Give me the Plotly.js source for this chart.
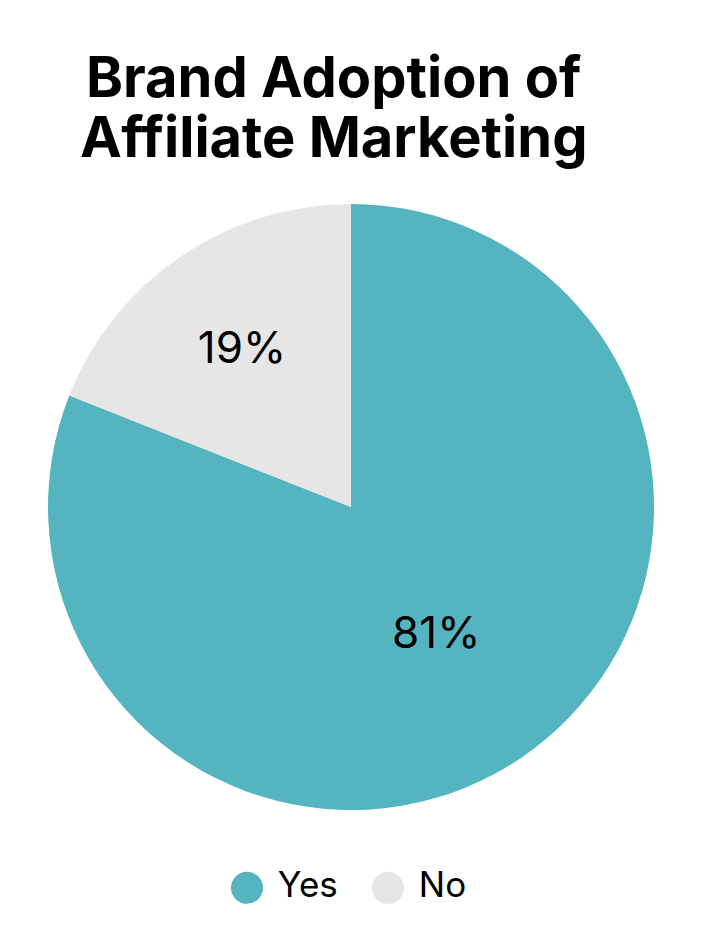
<!DOCTYPE html>
<html>
<head>
<meta charset="utf-8">
<script src="https://cdn.plot.ly/plotly-3.0.1.min.js"></script>
<style>
  html, body { margin: 0; padding: 0; background: #ffffff; }
  #chart { width: 701px; height: 939px; }
</style>
</head>
<body>
<div id="chart"></div>
<script>
// Brand adoption pie: share of brands using affiliate marketing.
const labels = ["Yes", "No"];
const shares = [81, 19];
const sliceColors = ["#54b4c0", "#e6e6e6"];
const titleLines = ["Brand Adoption of", "Affiliate Marketing"];

const FONT_FAMILY = "Inter, 'Noto Sans', sans-serif";
const TEXT_COLOR = "#000000";

const pie = {
  type: "pie",
  labels: labels,
  values: shares,
  sort: false,
  direction: "clockwise",
  rotation: 0,
  marker: { colors: sliceColors, line: { width: 0 } },
  textinfo: "percent",
  textposition: "inside",
  insidetextorientation: "horizontal",
  textfont: { family: FONT_FAMILY, size: 44, color: TEXT_COLOR },
  showlegend: false,
  hoverinfo: "label+percent",
  domain: { x: [0.0685, 0.933], y: [0.137, 0.783] },
};

// Legend row drawn as a marker+text strip so the swatches can be large circles.
const legendRow = {
  type: "scatter",
  mode: "markers+text",
  x: labels,
  y: labels.map(() => 0),
  text: labels.map((name) => " " + name),
  textposition: "middle right",
  textfont: { family: FONT_FAMILY, size: 35, color: TEXT_COLOR },
  marker: { size: 32, color: sliceColors, line: { width: 0 } },
  showlegend: false,
  hoverinfo: "skip",
  cliponaxis: false,
};

// The title is set as two lines with tighter leading than <br> gives.
const titleY = [0.918, 0.854];
const titleAnnotations = titleLines.map((line, i) => ({
  text: "<b>" + line + "</b>",
  xref: "paper",
  yref: "paper",
  x: 0.476,
  y: titleY[i],
  xanchor: "center",
  yanchor: "middle",
  showarrow: false,
  font: { family: FONT_FAMILY, size: 56, color: TEXT_COLOR },
}));

const layout = {
  width: 701,
  height: 939,
  margin: { l: 0, r: 0, t: 0, b: 0 },
  paper_bgcolor: "#ffffff",
  plot_bgcolor: "#ffffff",
  font: { family: FONT_FAMILY, color: TEXT_COLOR },
  showlegend: false,
  annotations: titleAnnotations,
  xaxis: {
    visible: false,
    type: "category",
    range: [-1.752, 3.22],
    domain: [0, 1],
    fixedrange: true,
  },
  yaxis: {
    visible: false,
    range: [-1, 1],
    domain: [0.027, 0.082],
    fixedrange: true,
  },
};

Plotly.newPlot("chart", [pie, legendRow], layout, { displayModeBar: false, staticPlot: true });
</script>
</body>
</html>
